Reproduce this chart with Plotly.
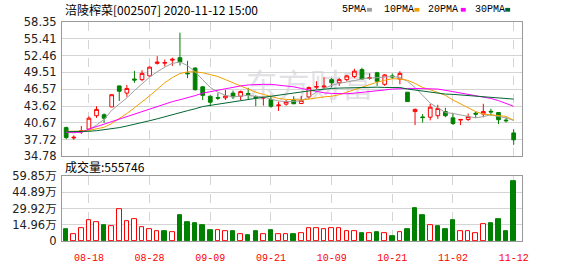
import plotly.graph_objects as go

# ---------------- data ----------------
dates = ["08-13", "08-14", "08-17", "08-18", "08-19", "08-20", "08-21", "08-24", "08-25", "08-26",
         "08-27", "08-28", "08-31", "09-01", "09-02", "09-03", "09-04", "09-07", "09-08", "09-09",
         "09-10", "09-11", "09-14", "09-15", "09-16", "09-17", "09-18", "09-21", "09-22", "09-23",
         "09-24", "09-25", "09-28", "09-29", "09-30", "10-09", "10-12", "10-13", "10-14", "10-15",
         "10-16", "10-19", "10-20", "10-21", "10-22", "10-23", "10-26", "10-27", "10-28", "10-29",
         "10-30", "11-02", "11-03", "11-04", "11-05", "11-06", "11-09", "11-10", "11-11", "11-12"]

opens = [39.83, 38.02, 39.07, 39.56, 41.92, 42.09, 43.46, 47.14, 45.88, 48.35,
         48.24, 48.90, 51.10, 51.12, 51.65, 52.09, 49.39, 50.27, 46.98, 45.33,
         45.11, 45.05, 45.88, 45.33, 45.82, 45.27, 45.00, 44.78, 43.68, 43.95,
         44.67, 44.06, 45.22, 46.92, 46.95, 48.24, 47.69, 48.24, 48.79, 50.00,
         48.46, 49.45, 47.42, 48.90, 48.35, 46.04, 42.64, 41.70, 41.65, 41.92,
         42.64, 41.54, 41.15, 41.26, 42.36, 42.20, 42.69, 42.47, 41.15, 38.90]
highs = [40.00, 38.46, 40.11, 41.81, 43.57, 42.31, 45.66, 47.20, 47.31, 49.78,
         49.89, 50.55, 52.36, 51.76, 52.09, 56.48, 51.54, 50.44, 47.14, 45.49,
         45.88, 46.43, 46.32, 46.32, 46.81, 45.49, 45.22, 45.38, 44.39, 44.67,
         45.33, 45.38, 47.03, 47.96, 48.68, 48.51, 48.51, 49.06, 50.16, 50.33,
         49.34, 49.61, 49.23, 49.34, 49.72, 46.04, 43.19, 42.20, 44.01, 43.84,
         43.30, 42.31, 41.26, 42.31, 42.64, 44.01, 43.13, 42.53, 41.65, 39.56]
lows = [37.80, 37.69, 38.74, 39.45, 41.54, 40.66, 43.41, 44.50, 45.22, 47.69,
        47.96, 48.79, 50.88, 50.55, 50.66, 50.71, 48.51, 46.32, 44.67, 43.57,
        44.67, 44.67, 44.83, 44.67, 44.83, 43.57, 43.68, 43.30, 42.75, 43.68,
        43.95, 43.95, 44.83, 46.59, 46.70, 46.87, 47.14, 47.96, 48.51, 48.24,
        48.24, 47.14, 47.14, 48.35, 47.42, 44.39, 40.27, 40.71, 41.10, 41.37,
        41.65, 40.27, 40.27, 40.99, 41.54, 41.65, 41.92, 40.44, 40.71, 36.81]
closes = [38.08, 38.13, 39.28, 41.48, 43.02, 41.48, 45.60, 46.21, 46.70, 48.18,
          49.34, 50.44, 51.30, 51.25, 51.81, 51.37, 49.28, 46.48, 45.49, 44.28,
          45.00, 45.38, 45.22, 46.15, 45.66, 45.05, 45.11, 43.57, 43.79, 44.39,
          44.01, 44.61, 46.87, 47.03, 47.10, 47.69, 48.24, 48.90, 49.72, 48.35,
          48.57, 47.96, 49.06, 48.73, 49.34, 44.39, 43.02, 41.59, 43.41, 43.19,
          41.92, 40.55, 41.26, 41.76, 42.20, 42.64, 42.58, 41.21, 41.04, 37.69]

ma5 = [39.07, 38.90, 39.07, 39.45, 40.27, 41.26, 42.86, 43.95, 45.05, 46.32,
       47.58, 48.68, 49.61, 50.44, 51.10, 51.32, 50.71, 49.61, 48.24, 46.87,
       46.04, 45.49, 45.22, 45.33, 45.49, 45.33, 45.22, 44.83, 44.50, 44.39,
       44.39, 44.50, 45.22, 46.04, 46.70, 47.25, 47.58, 47.86, 48.13, 48.35,
       48.51, 48.62, 48.68, 48.79, 48.62, 47.96, 46.87, 45.49, 44.12, 43.30,
       42.47, 42.31, 42.09, 41.87, 41.54, 41.76, 42.09, 41.76, 41.54, 41.10]
ma10 = [39.18, 39.18, 39.23, 39.34, 39.56, 39.89, 40.55, 41.37, 42.30, 43.30,
        44.30, 45.40, 46.55, 47.70, 48.60, 49.30, 49.61, 49.61, 49.45, 49.17,
        48.79, 48.24, 47.69, 47.25, 46.59, 46.04, 45.66, 45.33, 44.94, 44.78,
        44.67, 44.67, 44.83, 45.05, 45.22, 45.33, 45.60, 46.04, 46.48, 46.98,
        47.42, 47.80, 48.13, 48.40, 48.35, 48.13, 47.58, 46.87, 46.48, 46.04,
        45.49, 44.67, 43.95, 43.30, 42.64, 42.20, 42.09, 42.03, 41.81, 41.10]
ma20 = [39.01, 38.96, 39.01, 39.56, 40.00, 40.44, 40.93, 41.37, 41.87, 42.31,
        42.75, 43.19, 43.57, 44.01, 44.39, 44.72, 45.05, 45.44, 45.88, 46.15,
        46.43, 46.70, 46.92, 47.14, 47.31, 47.42, 47.42, 47.42, 47.31, 47.20,
        46.98, 46.70, 46.43, 46.15, 45.93, 45.82, 45.77, 45.77, 45.88, 45.99,
        46.15, 46.26, 46.43, 46.59, 46.70, 46.70, 46.70, 46.70, 46.65, 46.59,
        46.37, 46.15, 45.93, 45.66, 45.44, 45.22, 44.94, 44.56, 44.12, 43.57]
ma30 = [39.12, 39.12, 39.18, 39.18, 39.29, 39.45, 39.61, 39.83, 40.11, 40.38,
        40.71, 41.04, 41.37, 41.76, 42.09, 42.42, 42.80, 43.13, 43.52, 43.73,
        43.95, 44.12, 44.28, 44.50, 44.72, 44.94, 45.16, 45.33, 45.49, 45.71,
        45.93, 46.10, 46.26, 46.43, 46.59, 46.70, 46.76, 46.81, 46.87, 46.92,
        46.98, 46.92, 46.87, 46.87, 46.87, 46.59, 46.43, 46.21, 46.04, 45.82,
        45.71, 45.66, 45.55, 45.44, 45.33, 45.27, 45.22, 45.11, 45.00, 44.83]

# volume in 万 (10k lots)
volumes = [11.27, 6.65, 12.14, 19.66, 17.35, 14.74, 13.59, 29.20, 18.21, 20.53,
           12.72, 11.27, 9.54, 8.67, 7.81, 24.28, 17.35, 16.48, 14.74, 10.41,
           10.41, 9.54, 8.67, 6.65, 5.20, 9.54, 6.65, 10.41, 6.07, 6.07,
           6.07, 6.94, 12.14, 12.14, 10.70, 12.14, 12.14, 8.67, 9.54, 6.94,
           6.94, 7.81, 6.94, 4.34, 7.81, 11.27, 30.36, 23.42, 14.46, 13.88,
           11.27, 19.37, 9.54, 8.67, 6.94, 15.61, 16.48, 19.95, 9.54, 55.57]
# 1 = red (up) bar, 0 = green (down) bar
vol_up = [0, 1, 1, 1, 1, 0, 1, 1, 1, 1,
          1, 1, 1, 0, 1, 0, 0, 0, 0, 0,
          1, 1, 0, 1, 0, 0, 1, 0, 1, 1,
          0, 1, 1, 1, 1, 1, 1, 1, 1, 0,
          1, 0, 1, 0, 1, 0, 0, 0, 1, 0,
          0, 0, 1, 1, 1, 1, 0, 0, 0, 0]

price_ticks = [34.78, 37.72, 40.67, 43.62, 46.57, 49.51, 52.46, 55.41, 58.35]
vol_ticks = [0, 14.96, 29.92, 44.89, 59.85]
date_ticks = ["08-18", "08-28", "09-09", "09-21", "10-09", "10-21", "11-02", "11-12"]
last_volume = "555746"
title_text = "涪陵榨菜[002507] 2020-11-12 15:00"
ma_names = ["5PMA", "10PMA", "20PMA", "30PMA"]

# ---------------- styling / layout ----------------
RED = "#ff0000"
GREEN = "#008000"
MA_COLORS = ["#a0a0a0", "#f0a000", "#ff00ff", "#006633"]
GRID = "#d4d4d4"
BORDER = "#999999"

W, H = 578, 276
ML, MR, MT, MB = 56, 56, 22, 21
PW, PH = W - ML - MR, H - MT - MB


def px(x):
    return (x - ML) / PW


def py(y):
    return (H - MB - y) / PH


xs = list(range(len(dates)))
tickvals = [dates.index(d) for d in date_ticks]

fig = go.Figure()

fig.add_trace(go.Candlestick(
    x=xs, open=opens, high=highs, low=lows, close=closes,
    increasing=dict(line=dict(color=RED, width=1), fillcolor="#ffffff"),
    decreasing=dict(line=dict(color=GREEN, width=1), fillcolor=GREEN),
    whiskerwidth=0, xaxis="x", yaxis="y", hoverinfo="skip", showlegend=False))

for vals, col in zip([ma5, ma10, ma20, ma30], MA_COLORS):
    fig.add_trace(go.Scatter(x=xs, y=vals, mode="lines", line=dict(color=col, width=1),
                             xaxis="x", yaxis="y", hoverinfo="skip", showlegend=False))

fig.add_trace(go.Bar(
    x=xs, y=volumes, width=0.6,
    marker=dict(color=["#ffffff" if u else GREEN for u in vol_up],
                line=dict(color=[RED if u else GREEN for u in vol_up], width=1)),
    xaxis="x2", yaxis="y2", hoverinfo="skip", showlegend=False))

x_range = [-0.55, 60.1]
common_x = dict(range=x_range, tickmode="array", tickvals=tickvals, showgrid=True,
                gridcolor=GRID, griddash="dash", gridwidth=1, zeroline=False,
                showline=True, mirror=True, linecolor=BORDER, linewidth=1, ticks="")

fig.update_layout(
    width=W, height=H, autosize=False,
    margin=dict(l=ML, r=MR, t=MT, b=MB, pad=0),
    paper_bgcolor="#ffffff", plot_bgcolor="rgba(0,0,0,0)",
    showlegend=False, bargap=0,
    xaxis=dict(common_x, domain=[0, 1], anchor="y", showticklabels=False,
               rangeslider=dict(visible=False)),
    yaxis=dict(domain=[py(165), 1], range=[price_ticks[0], price_ticks[-1]],
               tickmode="array", tickvals=price_ticks,
               ticktext=["%.2f" % v for v in price_ticks],
               showgrid=True, gridcolor=GRID, zeroline=False,
               showline=True, mirror=True, linecolor=BORDER, linewidth=1, ticks="",
               tickfont=dict(family="DejaVu Sans", size=11.5, color="#222222"),
               ticklabelstandoff=2),
    xaxis2=dict(common_x, domain=[0, 1], anchor="y2", matches="x",
                ticktext=date_ticks, showticklabels=True,
                tickfont=dict(family="Liberation Mono", size=10, color=RED),
                ticklabelstandoff=7),
    yaxis2=dict(domain=[0, py(186)], range=[vol_ticks[0], vol_ticks[-1]],
                tickmode="array", tickvals=vol_ticks,
                ticktext=["0" if v == 0 else "%.2f万" % v for v in vol_ticks],
                showgrid=True, gridcolor=GRID, zeroline=False,
                showline=True, mirror=True, linecolor=BORDER, linewidth=1, ticks="",
                tickfont=dict(family="DejaVu Sans, Noto Sans CJK SC", size=11.5, color="#222222"),
                ticklabelstandoff=2),
)

ann = []
ann.append(dict(text=title_text, x=px(57), y=py(9), xref="paper", yref="paper",
                xanchor="left", yanchor="middle", showarrow=False,
                font=dict(family="Noto Sans CJK SC", size=12, color="#000000")))
ann.append(dict(text="成交量:" + last_volume, x=px(57), y=py(176), xref="paper", yref="paper",
                xanchor="left", yanchor="middle", showarrow=False,
                font=dict(family="Noto Sans CJK SC", size=12, color="#000000")))

legend_x = [338, 380, 425, 472]
square_x = [365, 413, 460, 505]
shapes = []
for name, lx, sx, col in zip(ma_names, legend_x, square_x, MA_COLORS):
    ann.append(dict(text=name, x=px(lx), y=py(9), xref="paper", yref="paper",
                    xanchor="left", yanchor="middle", showarrow=False,
                    font=dict(family="Liberation Mono", size=10, color="#000000")))
    shapes.append(dict(type="rect", xref="paper", yref="paper",
                       x0=px(sx), x1=px(sx + 5), y0=py(11), y1=py(7),
                       fillcolor=col, line=dict(width=0)))

# faint watermark
shapes.append(dict(type="rect", xref="paper", yref="paper", layer="below",
                   x0=px(232), x1=px(382), y0=py(110), y1=py(74),
                   line=dict(width=0), fillcolor="rgba(0,0,0,0)",
                   label=dict(text="东方财富", font=dict(family="Noto Sans CJK SC", size=32,
                                                       color="#e2e2e6"))))

fig.update_layout(annotations=ann, shapes=shapes)

fig.write_html("out.html")
